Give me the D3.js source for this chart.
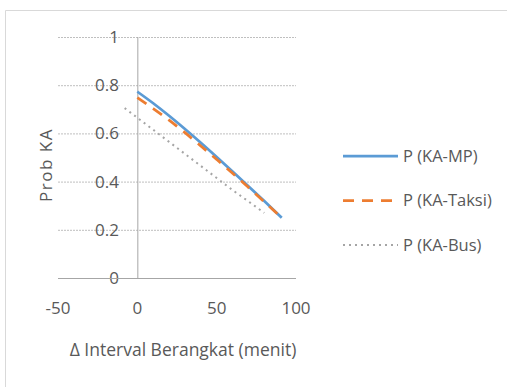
<!DOCTYPE html>
<html>
<head>
<meta charset="utf-8">
<script src="https://d3js.org/d3.v7.min.js"></script>
<style>
  body { margin: 0; background: #fff; }
  text { font-family: "Open Sans", sans-serif; fill: #595959; }
</style>
</head>
<body>
<script>
// data
var xMP = [0, 10, 20, 30, 40, 50, 60, 70, 80, 91];
var pMP = [0.773, 0.725, 0.673, 0.618, 0.561, 0.502, 0.442, 0.381, 0.319, 0.25];
var xTaksi = [0, 10, 20, 30, 40, 50, 60, 70, 80, 91];
var pTaksi = [0.748, 0.703, 0.655, 0.603, 0.548, 0.492, 0.435, 0.376, 0.316, 0.25];
var xBus = [-8, 0, 10, 20, 30, 40, 50, 60, 70, 80];
var pBus = [0.705, 0.665, 0.615, 0.565, 0.515, 0.465, 0.415, 0.365, 0.318, 0.27];
var xTicks = [-50, 0, 50, 100];
var yTicks = [0, 0.2, 0.4, 0.6, 0.8, 1];
var seriesNames = ["P (KA-MP)", "P (KA-Taksi)", "P (KA-Bus)"];

var width = 507, height = 387;
var svg = d3.select("body").append("svg")
  .attr("width", width)
  .attr("height", height);

// outer chart border (top and left only visible)
svg.append("line").attr("x1", 5.5).attr("x2", width).attr("y1", 10.5).attr("y2", 10.5)
  .attr("stroke", "#d9d9d9");
svg.append("line").attr("x1", 5.5).attr("x2", 5.5).attr("y1", 10.5).attr("y2", height)
  .attr("stroke", "#d9d9d9");

var x = d3.scaleLinear().domain([-50, 100]).range([58, 296]);
var y = d3.scaleLinear().domain([0, 1]).range([278, 37]);

// gridlines
svg.append("g")
  .attr("transform", "translate(" + x(-50) + ",0)")
  .call(d3.axisLeft(y).tickValues(yTicks).tickSize(-(x(100) - x(-50))).tickFormat(""))
  .call(function(g) {
    g.select(".domain").remove();
    g.selectAll("line").attr("stroke", "#bfbfbf").attr("stroke-dasharray", "2,1");
  });

// y tick labels
svg.append("g").selectAll("text")
  .data(yTicks)
  .enter().append("text")
  .attr("x", 119)
  .attr("y", function(d) { return y(d); })
  .attr("dy", "0.35em")
  .attr("text-anchor", "end")
  .style("font-size", "17px")
  .text(function(d) { return d; });

// x tick labels
svg.append("g").selectAll("text")
  .data(xTicks)
  .enter().append("text")
  .attr("x", function(d) { return x(d); })
  .attr("y", 308)
  .attr("dy", "0.35em")
  .attr("text-anchor", "middle")
  .style("font-size", "17px")
  .text(function(d) { return d; });

// axes lines
svg.append("line")
  .attr("x1", x(0) + 0.5).attr("x2", x(0) + 0.5)
  .attr("y1", y(1)).attr("y2", y(0))
  .attr("stroke", "#a6a6a6");
svg.append("line")
  .attr("x1", x(-50)).attr("x2", x(100))
  .attr("y1", y(0) + 0.5).attr("y2", y(0) + 0.5)
  .attr("stroke", "#a6a6a6");

// axis titles
svg.append("text")
  .attr("x", 183).attr("y", 350)
  .attr("dy", "0.35em")
  .attr("text-anchor", "middle")
  .style("font-size", "17.5px")
  .text("\u0394 Interval Berangkat (menit)");
svg.append("text")
  .attr("transform", "translate(46,165) rotate(-90)")
  .attr("dy", "0.35em")
  .attr("text-anchor", "middle")
  .style("font-size", "17px")
  .style("letter-spacing", "1.5px")
  .text("Prob KA");

var line = d3.line()
  .x(function(d) { return x(d[0]); })
  .y(function(d) { return y(d[1]); })
  .curve(d3.curveMonotoneX);

var series = [
  { name: seriesNames[0], data: d3.zip(xMP, pMP), color: "#5b9bd5", width: 2.75, dash: null },
  { name: seriesNames[1], data: d3.zip(xTaksi, pTaksi), color: "#ed7d31", width: 2.75, dash: "11,8" },
  { name: seriesNames[2], data: d3.zip(xBus, pBus), color: "#a5a5a5", width: 2, dash: "2,4" }
];

svg.append("g").selectAll("path")
  .data(series)
  .enter().append("path")
  .attr("fill", "none")
  .attr("stroke", function(d) { return d.color; })
  .attr("stroke-width", function(d) { return d.width; })
  .attr("stroke-dasharray", function(d) { return d.dash; })
  .attr("d", function(d) { return line(d.data); });

// legend
var legend = svg.append("g").selectAll("g")
  .data(series)
  .enter().append("g")
  .attr("transform", function(d, i) { return "translate(343," + (156 + i * 44.5) + ")"; });
legend.append("line")
  .attr("x1", 0).attr("x2", 55)
  .attr("stroke", function(d) { return d.color; })
  .attr("stroke-width", function(d) { return d.width; })
  .attr("stroke-dasharray", function(d) { return d.dash; });
legend.append("text")
  .attr("x", 60)
  .attr("dy", "0.35em")
  .style("font-size", "16.5px")
  .text(function(d) { return d.name; });
</script>
</body>
</html>
